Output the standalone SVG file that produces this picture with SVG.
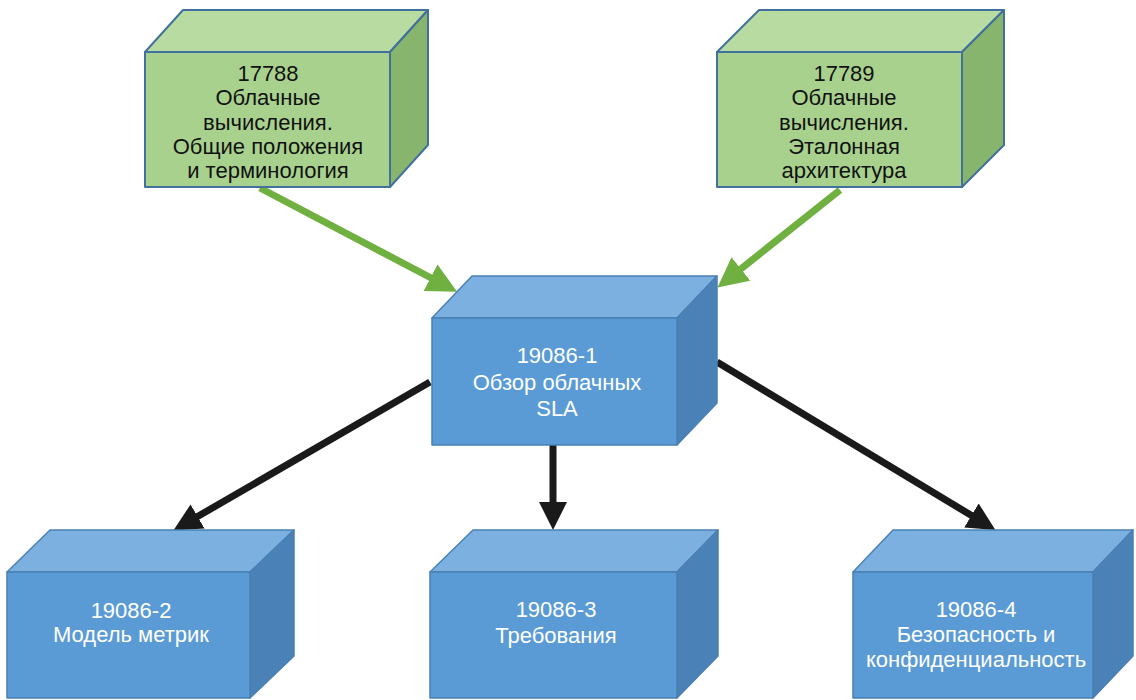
<svg xmlns="http://www.w3.org/2000/svg" width="1136" height="700" viewBox="0 0 1136 700">
<style>
  .gf{fill:#a9d18e;stroke:#41719c;stroke-width:2;stroke-linejoin:round}
  .gt{fill:#b8dba2;stroke:#41719c;stroke-width:2;stroke-linejoin:round}
  .gr{fill:#88b56e;stroke:#41719c;stroke-width:2;stroke-linejoin:round}
  .bf{fill:#5b9bd5;stroke:#4a80b3;stroke-width:1.5;stroke-linejoin:round}
  .bt{fill:#7cb0e1;stroke:#4a80b3;stroke-width:1.5;stroke-linejoin:round}
  .br{fill:#4a82b8;stroke:#4a80b3;stroke-width:1.5;stroke-linejoin:round}
  text{font-family:"Liberation Sans",Arial,sans-serif;font-size:22px;text-anchor:middle}
  .dk{fill:#111}
  .wt{fill:#ffffff}
  .ga{stroke:#6fb040;stroke-width:7;fill:none}
  .ka{stroke:#1a1a1a;stroke-width:7;fill:none}
</style>
<defs>
  <marker id="mg" markerUnits="userSpaceOnUse" markerWidth="30" markerHeight="30" viewBox="0 0 30 30" refX="5" refY="15" orient="auto">
    <path d="M0,0 L30,15 L0,30 z" fill="#6fb040"/>
  </marker>
  <marker id="mk" markerUnits="userSpaceOnUse" markerWidth="28" markerHeight="28" viewBox="0 0 28 28" refX="3" refY="14" orient="auto">
    <path d="M0,0 L28,14 L0,28 z" fill="#1a1a1a"/>
  </marker>
</defs>

<g id="connectors">
  <line class="ga" x1="260" y1="188" x2="435" y2="280" marker-end="url(#mg)"/>
  <line class="ga" x1="840" y1="190" x2="737" y2="272" marker-end="url(#mg)"/>
  <line class="ka" x1="430" y1="382" x2="195" y2="518" marker-end="url(#mk)"/>
  <line class="ka" x1="553" y1="445" x2="553" y2="505" marker-end="url(#mk)"/>
  <line class="ka" x1="717" y1="362" x2="974" y2="517" marker-end="url(#mk)"/>
</g>

<g id="n17788">
  <polygon class="gt" points="145,52 183,10 428,10 390,52"/>
  <polygon class="gr" points="390,52 428,10 428,145 390,187"/>
  <rect class="gf" x="145" y="52" width="245" height="135"/>
  <text class="dk" x="268" y="81">17788</text>
  <text class="dk" x="268" y="105">Облачные</text>
  <text class="dk" x="268" y="130">вычисления.</text>
  <text class="dk" x="268" y="154">Общие положения</text>
  <text class="dk" x="268" y="178">и терминология</text>
</g>

<g id="n17789">
  <polygon class="gt" points="717,52 759,10 1004,10 962,52"/>
  <polygon class="gr" points="962,52 1004,10 1004,145 962,187"/>
  <rect class="gf" x="717" y="52" width="245" height="135"/>
  <text class="dk" x="844" y="81">17789</text>
  <text class="dk" x="844" y="105">Облачные</text>
  <text class="dk" x="844" y="130">вычисления.</text>
  <text class="dk" x="844" y="154">Эталонная</text>
  <text class="dk" x="844" y="178">архитектура</text>
</g>

<g id="n19086-1">
  <polygon class="bt" points="432,318 472,276 717,276 677,318"/>
  <polygon class="br" points="677,318 717,276 717,403 677,445"/>
  <rect class="bf" x="432" y="318" width="245" height="127"/>
  <text class="wt" x="557" y="363">19086-1</text>
  <text class="wt" x="557" y="390">Обзор облачных</text>
  <text class="wt" x="557" y="416">SLA</text>
</g>

<g id="n19086-2">
  <polygon class="bt" points="7,572 50,530 294,530 250,572"/>
  <polygon class="br" points="250,572 294,530 294,656 250,698"/>
  <rect class="bf" x="7" y="572" width="243" height="126"/>
  <text class="wt" x="131" y="618">19086-2</text>
  <text class="wt" x="131" y="642">Модель метрик</text>
</g>

<g id="n19086-3">
  <polygon class="bt" points="430,572 473,530 718,530 677,572"/>
  <polygon class="br" points="677,572 718,530 718,656 677,698"/>
  <rect class="bf" x="430" y="572" width="247" height="126"/>
  <text class="wt" x="556" y="617">19086-3</text>
  <text class="wt" x="556" y="643">Требования</text>
</g>

<g id="n19086-4">
  <polygon class="bt" points="853,572 893,530 1133,530 1093,572"/>
  <polygon class="br" points="1093,572 1133,530 1133,656 1093,698"/>
  <rect class="bf" x="853" y="572" width="240" height="126"/>
  <text class="wt" x="976" y="617">19086-4</text>
  <text class="wt" x="976" y="642">Безопасность и</text>
  <text class="wt" x="976" y="667">конфиденциальность</text>
</g>
</svg>
